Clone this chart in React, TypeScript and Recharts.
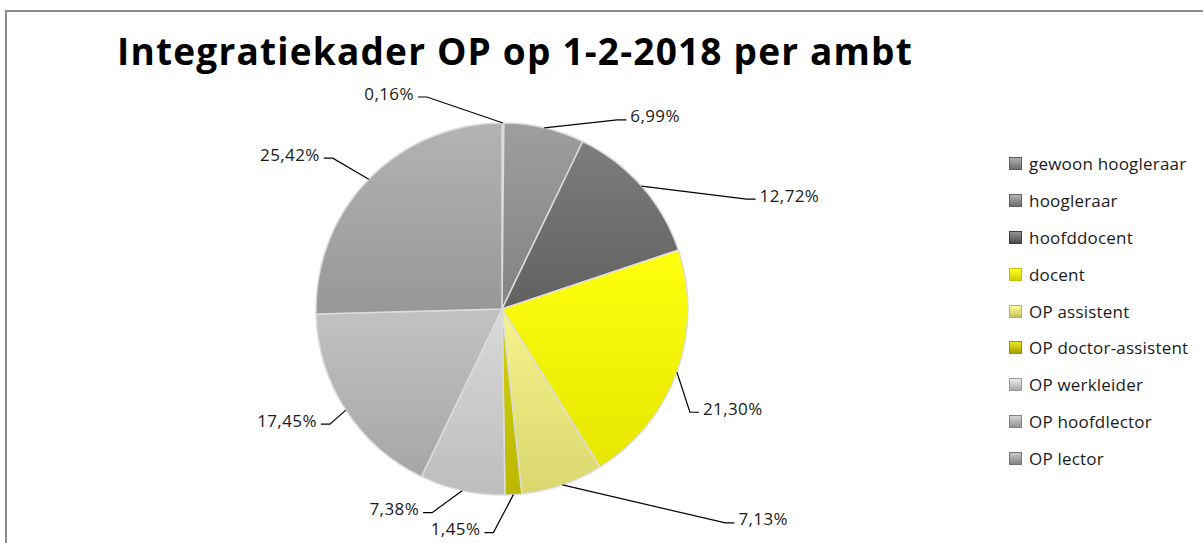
import { PieChart, Pie, Cell, Legend } from "recharts";

const categories = [
  "gewoon hoogleraar",
  "hoogleraar",
  "hoofddocent",
  "docent",
  "OP assistent",
  "OP doctor-assistent",
  "OP werkleider",
  "OP hoofdlector",
  "OP lector",
];
const shares = [0.16, 6.99, 12.72, 21.3, 7.13, 1.45, 7.38, 17.45, 25.42];

const sliceColors = [
  "#8e8e8e",
  "#909090",
  "#6f6f6f",
  "#f4f400",
  "#e8e57c",
  "#c8c500",
  "#cbcbcb",
  "#b4b4b4",
  "#a5a5a5",
];

// where each leader line bends, relative to the point on the slice rim
const leaderBends = [
  [-76, -26],
  [73, -8],
  [105, 13],
  [13, 40],
  [163, 38],
  [-20, 38],
  [-30, 22],
  [-16, 14],
  [-36, -21],
];

const data = categories.map((name, i) => ({ name, value: shares[i] }));

const RAD = Math.PI / 180;
const FONT = "'Open Sans', sans-serif";

function shade(hex: string, amt: number) {
  const n = parseInt(hex.slice(1), 16);
  const f = (c: number) => Math.max(0, Math.min(255, Math.round(c + amt)));
  const r = f(n >> 16), g = f((n >> 8) & 255), b = f(n & 255);
  return `rgb(${r},${g},${b})`;
}

function renderLabel(props: any) {
  const { cx, cy, midAngle, outerRadius, index, value } = props;
  const ex = cx + outerRadius * Math.cos(-midAngle * RAD);
  const ey = cy + outerRadius * Math.sin(-midAngle * RAD);
  const [dx, dy] = leaderBends[index];
  const bx = ex + dx;
  const by = ey + dy;
  const side = dx >= 0 ? 1 : -1;
  const hx = bx + side * 9;
  const txt = value.toFixed(2).replace(".", ",") + "%";
  return (
    <g key={`lbl-${index}`}>
      <polyline
        points={`${ex},${ey} ${bx},${by} ${hx},${by}`}
        fill="none"
        stroke="#000"
        strokeWidth={1.2}
      />
      <text
        x={hx + side * 4}
        y={by - 4}
        textAnchor={side > 0 ? "start" : "end"}
        dominantBaseline="central"
        fontFamily={FONT}
        fontSize={17}
        letterSpacing={0.4}
        fill="#1a1a1a"
      >
        {txt}
      </text>
    </g>
  );
}

function LegendList() {
  return (
    <div style={{ fontFamily: FONT, fontSize: 17, letterSpacing: 0.2, color: "#1a1a1a" }}>
      {categories.map((c, i) => (
        <div key={c} style={{ height: 36.9, display: "flex", alignItems: "center" }}>
          <span
            style={{
              width: 11,
              height: 11,
              marginRight: 7,
              flex: "none",
              background: `linear-gradient(${shade(sliceColors[i], 35)}, ${shade(sliceColors[i], -35)})`,
              border: `1px solid ${shade(sliceColors[i], -50)}`,
            }}
          />
          {c}
        </div>
      ))}
    </div>
  );
}

export default function App() {
  return (
    <div style={{ position: "absolute", left: 0, top: 0, width: 1203, height: 543, background: "#fff", overflow: "hidden" }}>
      <svg width={0} height={0} style={{ position: "absolute" }}>
        <defs>
          {sliceColors.map((c, i) => (
            <linearGradient key={i} id={`slice-${i}`} x1="0" y1="0" x2="0" y2="1">
              <stop offset="0%" stopColor={shade(c, 14)} />
              <stop offset="100%" stopColor={shade(c, -14)} />
            </linearGradient>
          ))}
        </defs>
      </svg>
      <div
        style={{
          position: "absolute",
          left: 5,
          top: 10,
          width: 1260,
          height: 600,
          borderLeft: "2px solid #8c8c8c",
          borderTop: "2px solid #8c8c8c",
        }}
      />
      <div
        style={{
          position: "absolute",
          left: 0,
          top: 31,
          width: 1030,
          textAlign: "center",
          fontFamily: FONT,
          fontWeight: 700,
          fontSize: 37,
          letterSpacing: 1.2,
          lineHeight: "40px",
          color: "#000",
        }}
      >
        Integratiekader OP op 1-2-2018 per ambt
      </div>
      <div style={{ position: "absolute", left: 0, top: 0 }}>
        <PieChart width={1203} height={543} margin={{ top: 0, right: 0, bottom: 0, left: 0 }}>
          <Pie
            data={data}
            dataKey="value"
            nameKey="name"
            cx={502}
            cy={309}
            outerRadius={186}
            startAngle={90}
            endAngle={-270}
            stroke="#dcdcdc"
            strokeWidth={1.5}
            label={renderLabel}
            labelLine={false}
            isAnimationActive={false}
          >
            {data.map((d, i) => (
              <Cell key={d.name} fill={`url(#slice-${i})`} />
            ))}
          </Pie>
          <Legend
            layout="vertical"
            align="right"
            verticalAlign="middle"
            content={() => <LegendList />}
            wrapperStyle={{ left: 1009, top: 145, width: 194 }}
          />
        </PieChart>
      </div>
    </div>
  );
}
